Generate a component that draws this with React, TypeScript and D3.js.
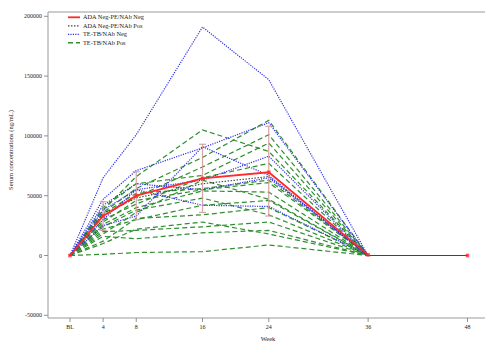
import React, { useEffect, useRef } from 'react';
import * as d3 from 'd3';

// Week visits (BL = 0)
const weeks = [0, 4, 8, 16, 24, 36, 48];
const weekLabels = ['BL', '4', '8', '16', '24', '36', '48'];
const yTicks = [-50000, 0, 50000, 100000, 150000, 200000];

// Mean of ADA Neg-PE/NAb Neg with error bar ranges (ng/mL)
const meanNeg = [0, 33000, 50000, 64500, 69600, 500, 0];
const errLow = [0, 21000, 30000, 36000, 33000, 0, 0];
const errHigh = [0, 45000, 70000, 93000, 108000, 1000, 0];

// Individual subjects, ADA Neg-PE/NAb Pos
const adaNegPos = [
  [0, 35000, 48000, 60000, 66000, 0, 0],
];

// Individual subjects, TE-TB/NAb Neg
const teNeg = [
  [0, 65000, 101000, 191000, 147000, 0, 0],
  [0, 47000, 71000, 90000, 111000, 0, 0],
  [0, 38000, 55000, 63000, 83000, 0, 0],
  [0, 25000, 33000, 91000, 67000, 0, 0],
  [0, 30000, 55000, 42000, 41000, 0, 0],
  [0, 42000, 60000, 55000, 65000, 0, 0],
];

// Individual subjects, TE-TB/NAb Pos
const tePos = [
  [0, 38000, 66000, 105000, 87000, 0, 0],
  [0, 36000, 56000, 82000, 113000, 0, 0],
  [0, 33000, 49000, 74000, 101000, 0, 0],
  [0, 40000, 60000, 67000, 94000, 0, 0],
  [0, 30000, 43000, 65000, 77000, 0, 0],
  [0, 35000, 52000, 56000, 63000, 0, 0],
  [0, 28000, 46000, 55000, 61000, 0, 0],
  [0, 26000, 40000, 54000, 53000, 0, 0],
  [0, 22000, 30000, 42000, 46000, 0, 0],
  [0, 20000, 21000, 24000, 28000, 0, 0],
  [0, 16000, 14000, 19000, 21000, 0, 0],
  [0, 1000, 2500, 3200, 8800, 0, 0],
  [0, 12000, 31000, 34000, 40000, 0, 0],
  [0, 18000, 36000, 63000, 47000, 0, 0],
  [0, 24000, 38000, 48000, 34000, 0, 0],
  [0, 10000, 22000, 28000, 18000, 0, 0],
];

const legendItems = [
  { label: 'ADA Neg-PE/NAb Neg', color: '#ff2a2a', dash: '', width: 1.8 },
  { label: 'ADA Neg-PE/NAb Pos', color: '#444444', dash: '1.5,1.5', width: 1.2 },
  { label: 'TE-TB/NAb Neg', color: '#3030ee', dash: '1.2,1.2', width: 1.2 },
  { label: 'TE-TB/NAb Pos', color: '#2f8f2f', dash: '5,3', width: 1.4 },
];

const App: React.FC = () => {
  const svgRef = useRef<SVGSVGElement | null>(null);

  useEffect(() => {
    if (!svgRef.current) return;
    const width = 485;
    const height = 344;
    const svg = d3.select(svgRef.current);
    svg.selectAll('*').remove();

    const plot = { left: 48, right: 490, top: 12, bottom: 318 };
    const font = "'Liberation Serif', 'DejaVu Serif', serif";

    const x = d3.scaleLinear().domain([0, 48]).range([70, 467.5]);
    const y = d3.scaleLinear().domain([0, 200000]).range([255.5, 16.3]);

    svg.append('rect').attr('width', width).attr('height', height).attr('fill', '#fff');

    // frame
    const frame = svg.append('g').attr('stroke', '#9a9a9a').attr('stroke-width', 1).attr('fill', 'none');
    frame.append('line').attr('x1', plot.left).attr('x2', plot.right).attr('y1', plot.top).attr('y2', plot.top);
    frame.append('line').attr('x1', plot.left).attr('x2', plot.right).attr('y1', plot.bottom).attr('y2', plot.bottom);
    frame.append('line').attr('x1', plot.left).attr('x2', plot.left).attr('y1', plot.top).attr('y2', plot.bottom);

    // y ticks
    yTicks.forEach(t => {
      svg.append('line')
        .attr('x1', plot.left - 4).attr('x2', plot.left)
        .attr('y1', y(t)).attr('y2', y(t))
        .attr('stroke', '#777').attr('stroke-width', 0.8);
      svg.append('text')
        .attr('x', plot.left - 6).attr('y', y(t) + 2)
        .attr('text-anchor', 'end').attr('font-family', font).attr('font-size', 6)
        .attr('fill', '#222').text(String(t));
    });

    // x ticks
    weeks.forEach((w, i) => {
      svg.append('line')
        .attr('x1', x(w)).attr('x2', x(w))
        .attr('y1', plot.bottom).attr('y2', plot.bottom + 4)
        .attr('stroke', '#777').attr('stroke-width', 0.8);
      svg.append('text')
        .attr('x', x(w)).attr('y', plot.bottom + 11)
        .attr('text-anchor', 'middle').attr('font-family', font).attr('font-size', 6)
        .attr('fill', '#222').text(weekLabels[i]);
    });

    svg.append('text')
      .attr('x', 268).attr('y', 341)
      .attr('text-anchor', 'middle').attr('font-family', font).attr('font-size', 6.5)
      .attr('fill', '#222').text('Week');

    svg.append('text')
      .attr('transform', `translate(13,150) rotate(-90)`)
      .attr('text-anchor', 'middle').attr('font-family', font).attr('font-size', 6.5)
      .attr('fill', '#222').text('Serum concentrations (ng/mL)');

    const line = d3.line<number>()
      .x((_, i) => x(weeks[i]))
      .y(d => y(d));

    const g = svg.append('g');

    const drawGroup = (data: number[][], color: string, dash: string, w: number) => {
      data.forEach(d => {
        g.append('path')
          .datum(d)
          .attr('d', line)
          .attr('fill', 'none')
          .attr('stroke', color)
          .attr('stroke-width', w)
          .attr('stroke-dasharray', dash);
      });
    };

    drawGroup(tePos, legendItems[3].color, legendItems[3].dash, 1.2);
    drawGroup(adaNegPos, legendItems[1].color, legendItems[1].dash, 1.1);
    drawGroup(teNeg, legendItems[2].color, legendItems[2].dash, 1.2);

    // error bars
    weeks.forEach((w, i) => {
      if (errHigh[i] - errLow[i] < 2000) return;
      const eb = g.append('g').attr('stroke', '#d49a9a').attr('stroke-width', 1.2).attr('opacity', 0.9);
      eb.append('line').attr('x1', x(w)).attr('x2', x(w)).attr('y1', y(errLow[i])).attr('y2', y(errHigh[i]));
      eb.append('line').attr('x1', x(w) - 3.5).attr('x2', x(w) + 3.5).attr('y1', y(errLow[i])).attr('y2', y(errLow[i]));
      eb.append('line').attr('x1', x(w) - 3.5).attr('x2', x(w) + 3.5).attr('y1', y(errHigh[i])).attr('y2', y(errHigh[i]));
    });

    // mean line
    g.append('path')
      .datum(meanNeg.slice(0, 6))
      .attr('d', line)
      .attr('fill', 'none')
      .attr('stroke', legendItems[0].color)
      .attr('stroke-width', 1.8);

    meanNeg.forEach((v, i) => {
      g.append('rect')
        .attr('x', x(weeks[i]) - 1.8).attr('y', y(v) - 1.8)
        .attr('width', 3.6).attr('height', 3.6)
        .attr('fill', legendItems[0].color).attr('opacity', 0.8);
    });

    // legend
    legendItems.forEach((item, i) => {
      const ly = 17.3 + i * 8.5;
      svg.append('line')
        .attr('x1', 68).attr('x2', 80).attr('y1', ly).attr('y2', ly)
        .attr('stroke', item.color).attr('stroke-width', item.width)
        .attr('stroke-dasharray', item.dash);
      svg.append('text')
        .attr('x', 83).attr('y', ly + 2)
        .attr('font-family', font).attr('font-size', 6.3)
        .attr('fill', '#222').text(item.label);
    });
  }, []);

  return (
    <svg
      ref={svgRef}
      width={485}
      height={344}
      style={{ position: 'absolute', left: 0, top: 0 }}
    />
  );
};

export default App;
